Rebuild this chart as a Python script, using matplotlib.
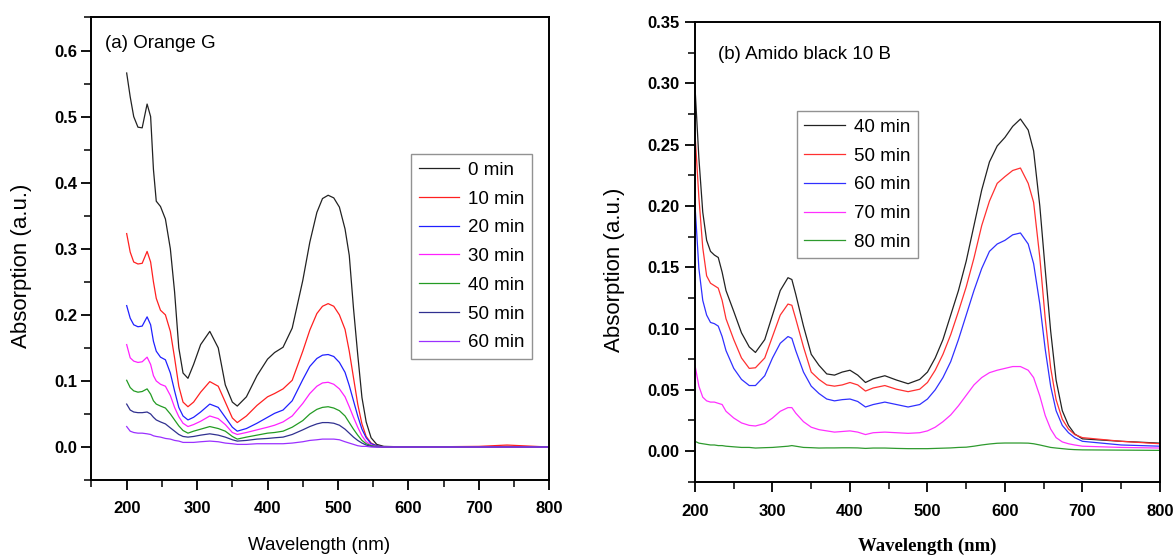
import matplotlib
matplotlib.use("Agg")
import matplotlib.pyplot as plt
from matplotlib.ticker import MultipleLocator

plt.rcParams['font.family'] = ['Liberation Sans', 'DejaVu Sans']

# ---- panel (a) Orange G ----
wl_a = [200, 205, 210, 216, 222, 229, 234, 238, 242, 248,
        255, 262, 268, 274, 280, 287, 295, 305, 318, 330,
        340, 350, 357, 370, 385, 400, 410, 422, 435, 450,
        460, 470, 478, 486, 494, 502, 510, 516, 522, 528,
        534, 540, 547, 555, 565, 600, 700, 720, 740, 760, 800]
labels_a = ['0 min', '10 min', '20 min', '30 min', '40 min', '50 min', '60 min']
colors_a = ['#222222', '#ff2020', '#2020ff', '#ff20ff', '#239b23', '#303090', '#9b30ff']
a_0 = [0.566, 0.53, 0.50, 0.484, 0.483, 0.519, 0.50, 0.42, 0.372, 0.364,
       0.345, 0.30, 0.235, 0.15, 0.112, 0.104, 0.125, 0.155, 0.175, 0.15,
       0.094, 0.068, 0.062, 0.076, 0.108, 0.133, 0.143, 0.151, 0.18, 0.252,
       0.31, 0.355, 0.376, 0.381, 0.377, 0.363, 0.33, 0.29, 0.21, 0.14,
       0.075, 0.038, 0.014, 0.004, 0.001, 0.0, 0.0, 0.0, 0.001, 0.0, 0.0]
a_10 = [0.323, 0.295, 0.28, 0.277, 0.278, 0.296, 0.28, 0.25, 0.225, 0.207,
        0.2, 0.175, 0.135, 0.092, 0.068, 0.061, 0.068, 0.083, 0.099, 0.092,
        0.068, 0.044, 0.037, 0.047, 0.063, 0.076, 0.081, 0.088, 0.101, 0.145,
        0.177, 0.202, 0.213, 0.217, 0.213, 0.2, 0.178, 0.145, 0.105, 0.065,
        0.035, 0.016, 0.006, 0.002, 0.0, 0.0, 0.001, 0.002, 0.003, 0.002, 0.0]
a_20 = [0.214, 0.195, 0.185, 0.182, 0.183, 0.197, 0.185, 0.16, 0.145, 0.136,
        0.132, 0.112, 0.085, 0.06, 0.047, 0.041, 0.045, 0.053, 0.065, 0.06,
        0.045, 0.03, 0.024, 0.028, 0.036, 0.045, 0.051, 0.056, 0.07, 0.102,
        0.122, 0.134, 0.139, 0.14, 0.137, 0.128, 0.113, 0.093, 0.07, 0.047,
        0.027, 0.014, 0.005, 0.002, 0.0, 0.0, 0.0, 0.0, 0.0, 0.0, 0.0]
a_30 = [0.155, 0.135, 0.13, 0.128, 0.129, 0.136, 0.125, 0.108, 0.1, 0.095,
        0.092, 0.078, 0.06, 0.046, 0.036, 0.031, 0.034, 0.039, 0.047, 0.043,
        0.034, 0.022, 0.019, 0.022, 0.026, 0.03, 0.033, 0.038, 0.047, 0.066,
        0.081, 0.092, 0.097, 0.098, 0.095, 0.088, 0.076, 0.061, 0.045, 0.03,
        0.017, 0.008, 0.003, 0.001, 0.0, 0.0, 0.0, 0.0, 0.0, 0.0, 0.0]
a_40 = [0.101, 0.09, 0.085, 0.083, 0.084, 0.088, 0.08, 0.07, 0.065, 0.062,
        0.059, 0.05, 0.041, 0.032, 0.025, 0.021, 0.024, 0.027, 0.031, 0.028,
        0.024, 0.016, 0.012, 0.015, 0.018, 0.021, 0.022, 0.024, 0.03, 0.04,
        0.05, 0.057, 0.06, 0.061, 0.059, 0.055, 0.047, 0.037, 0.027, 0.018,
        0.01, 0.005, 0.002, 0.001, 0.0, 0.0, 0.0, 0.0, 0.0, 0.0, 0.0]
a_50 = [0.065, 0.056, 0.053, 0.052, 0.052, 0.053, 0.05, 0.045, 0.041, 0.038,
        0.035, 0.029, 0.024, 0.019, 0.016, 0.015, 0.016, 0.018, 0.02, 0.018,
        0.015, 0.011, 0.009, 0.01, 0.012, 0.013, 0.014, 0.015, 0.019, 0.026,
        0.031, 0.035, 0.037, 0.037, 0.036, 0.033, 0.027, 0.021, 0.015, 0.01,
        0.006, 0.003, 0.001, 0.0, 0.0, 0.0, 0.0, 0.0, 0.0, 0.0, 0.0]
a_60 = [0.031, 0.024, 0.022, 0.021, 0.021, 0.02, 0.019, 0.017, 0.016, 0.015,
        0.013, 0.012, 0.01, 0.009, 0.007, 0.007, 0.007, 0.008, 0.009, 0.008,
        0.006, 0.005, 0.004, 0.004, 0.005, 0.005, 0.005, 0.005, 0.006, 0.008,
        0.01, 0.011, 0.012, 0.012, 0.012, 0.011, 0.008, 0.006, 0.004, 0.002,
        0.001, 0.001, 0.0, 0.0, 0.0, 0.0, 0.0, 0.0, 0.0, 0.0, 0.0]

# ---- panel (b) Amido black 10 B ----
wl_b = [200, 205, 210, 215, 220, 225, 230, 235, 240, 250,
        260, 270, 278, 290, 300, 310, 320, 325, 330, 340,
        350, 360, 370, 380, 390, 400, 410, 420, 430, 445,
        460, 475, 490, 500, 510, 520, 530, 540, 550, 560,
        570, 580, 590, 600, 610, 620, 630, 637, 645, 652,
        659, 666, 674, 682, 690, 700, 750, 800]
labels_b = ['40 min', '50 min', '60 min', '70 min', '80 min']
colors_b = ['#222222', '#ff3030', '#3030ff', '#ff30ff', '#2e9a2e']
b_40 = [0.297, 0.239, 0.195, 0.172, 0.163, 0.16, 0.158, 0.146, 0.131, 0.114,
        0.0965, 0.085, 0.0805, 0.091, 0.111, 0.131, 0.1415, 0.14, 0.128, 0.102,
        0.079, 0.07, 0.063, 0.062, 0.0645, 0.066, 0.062, 0.056, 0.059, 0.0615,
        0.058, 0.055, 0.0585, 0.0645, 0.076, 0.091, 0.111, 0.131, 0.155, 0.184,
        0.213, 0.236, 0.249, 0.256, 0.265, 0.271, 0.262, 0.245, 0.2, 0.148,
        0.098, 0.058, 0.033, 0.021, 0.014, 0.01, 0.008, 0.0065]
b_50 = [0.259, 0.207, 0.166, 0.143, 0.137, 0.135, 0.133, 0.123, 0.108, 0.091,
        0.076, 0.0675, 0.068, 0.076, 0.0935, 0.111, 0.12, 0.119, 0.108, 0.085,
        0.0645, 0.0585, 0.054, 0.053, 0.054, 0.056, 0.054, 0.049, 0.0515, 0.0535,
        0.0505, 0.0485, 0.0505, 0.056, 0.066, 0.079, 0.095, 0.114, 0.134, 0.1575,
        0.184, 0.204, 0.2185, 0.224, 0.229, 0.231, 0.2185, 0.203, 0.158, 0.108,
        0.068, 0.042, 0.026, 0.018, 0.0135, 0.011, 0.008, 0.006]
b_60 = [0.201, 0.149, 0.123, 0.111, 0.105, 0.104, 0.102, 0.0935, 0.082, 0.0675,
        0.0585, 0.0535, 0.0535, 0.0615, 0.076, 0.088, 0.0935, 0.092, 0.082, 0.0645,
        0.053, 0.047, 0.0425, 0.041, 0.042, 0.0425, 0.0405, 0.036, 0.038, 0.04,
        0.038, 0.036, 0.038, 0.0425, 0.05, 0.06, 0.073, 0.091, 0.111, 0.131,
        0.149, 0.163, 0.169, 0.172, 0.1765, 0.178, 0.169, 0.153, 0.12, 0.083,
        0.053, 0.033, 0.021, 0.015, 0.011, 0.008, 0.005, 0.004]
b_70 = [0.07, 0.053, 0.044, 0.041, 0.04, 0.04, 0.039, 0.038, 0.0325, 0.027,
        0.023, 0.021, 0.0205, 0.0225, 0.027, 0.0325, 0.0355, 0.0355, 0.031, 0.024,
        0.0195, 0.0175, 0.0165, 0.0155, 0.016, 0.0165, 0.0155, 0.0135, 0.015, 0.0155,
        0.015, 0.0145, 0.015, 0.0165, 0.0195, 0.024, 0.0295, 0.037, 0.0455, 0.054,
        0.06, 0.064, 0.066, 0.0675, 0.069, 0.069, 0.066, 0.06, 0.045, 0.029,
        0.018, 0.011, 0.0075, 0.006, 0.005, 0.004, 0.003, 0.0025]
b_80 = [0.008, 0.0065, 0.006, 0.0055, 0.005, 0.005, 0.0045, 0.0045, 0.004, 0.0035,
        0.003, 0.003, 0.0025, 0.0028, 0.003, 0.0035, 0.004, 0.0045, 0.004, 0.003,
        0.0028, 0.0025, 0.0026, 0.0026, 0.0027, 0.0027, 0.0026, 0.0022, 0.0025, 0.0025,
        0.0022, 0.002, 0.002, 0.002, 0.0022, 0.0024, 0.0026, 0.003, 0.0032, 0.004,
        0.005, 0.0058, 0.0064, 0.0066, 0.0066, 0.0066, 0.0065, 0.006, 0.005, 0.004,
        0.003, 0.0025, 0.002, 0.0015, 0.0012, 0.001, 0.0008, 0.0006]

series_a = [a_0, a_10, a_20, a_30, a_40, a_50, a_60]
series_b = [b_40, b_50, b_60, b_70, b_80]

fig = plt.figure(figsize=(11.74, 5.55), dpi=100)
ax1 = fig.add_axes([0.0779, 0.135, 0.390, 0.8335])
ax2 = fig.add_axes([0.592, 0.132, 0.396, 0.828])

for ys, lab, c in zip(series_a, labels_a, colors_a):
    ax1.plot(wl_a, ys, color=c, lw=0.9, label=lab)
for ys, lab, c in zip(series_b, labels_b, colors_b):
    ax2.plot(wl_b, ys, color=c, lw=0.9, label=lab)

ax1.set_xlim(150, 800)
ax1.set_ylim(-0.05, 0.65)
ax1.xaxis.set_minor_locator(MultipleLocator(50))
ax1.yaxis.set_minor_locator(MultipleLocator(0.05))
ax1.set_xticks([200, 300, 400, 500, 600, 700, 800])
ax1.set_yticks([0.0, 0.1, 0.2, 0.3, 0.4, 0.5, 0.6])

ax2.set_xlim(200, 800)
ax2.set_ylim(-0.025, 0.35)
ax2.xaxis.set_major_locator(MultipleLocator(100))
ax2.xaxis.set_minor_locator(MultipleLocator(50))
ax2.yaxis.set_minor_locator(MultipleLocator(0.025))
ax2.set_yticks([0.0, 0.05, 0.1, 0.15, 0.2, 0.25, 0.3, 0.35])
ax2.set_yticklabels(['0.00', '0.05', '0.10', '0.15', '0.20', '0.25', '0.30', '0.35'])

for ax, xpad, ypad in [(ax1, 8, 3), (ax2, 9, 4)]:
    for s in ax.spines.values():
        s.set_linewidth(1.4)
    ax.tick_params(which='major', direction='out', length=7, width=1.3)
    ax.tick_params(which='minor', direction='out', length=5, width=1.1)
    ax.tick_params(axis='x', which='both', pad=xpad)
    ax.tick_params(axis='y', which='both', pad=ypad)
    ax.tick_params(which='both', top=False, right=False)
    for t in ax.get_xticklabels() + ax.get_yticklabels():
        t.set_fontweight('bold')
        t.set_fontsize(12)

ax1.text(0.03, 0.944, '(a) Orange G', transform=ax1.transAxes, fontsize=13.5,
         ha='left', va='center')
ax2.text(0.05, 0.93, '(b) Amido black 10 B', transform=ax2.transAxes, fontsize=13.5,
         ha='left', va='center')

leg_kw = dict(loc='upper left', fontsize=13.5, frameon=True, fancybox=False,
              handlelength=2.15, handletextpad=0.5, borderaxespad=0, labelspacing=0.62,
              borderpad=0.4)
l1 = ax1.legend(bbox_to_anchor=(0.698, 0.7045), **leg_kw)
l2 = ax2.legend(bbox_to_anchor=(0.219, 0.806), **leg_kw)
for lg in (l1, l2):
    lg.get_frame().set_edgecolor('#777777')
    lg.get_frame().set_linewidth(1.0)

fig.text(0.0183, 0.521, 'Absorption (a.u.)', rotation=90, fontsize=16,
         ha='center', va='center')
fig.text(0.523, 0.514, 'Absorption (a.u.)', rotation=90, fontsize=16,
         ha='center', va='center')
fig.text(0.272, 0.032, 'Wavelength (nm)', fontsize=13.5, ha='center', va='top')
fig.text(0.790, 0.032, 'Wavelength (nm)', fontsize=13.5, ha='center', va='top',
         family=['Liberation Serif', 'DejaVu Serif'], fontweight='bold')

fig.savefig('out.png', dpi=100)
